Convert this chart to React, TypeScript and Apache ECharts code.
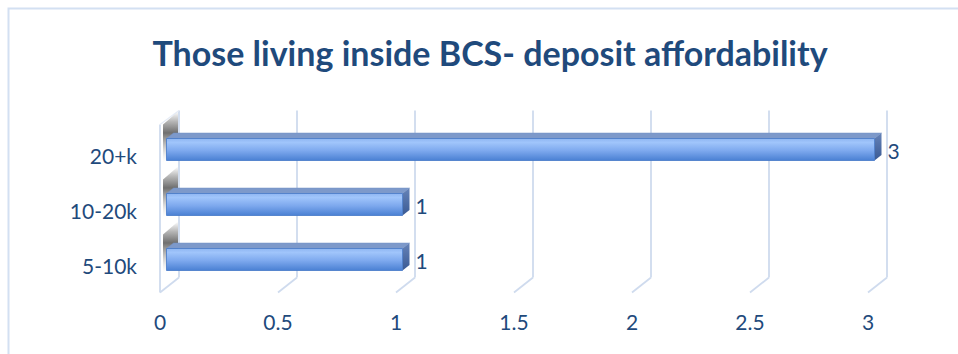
import React, { useEffect, useRef } from "react";
import * as echarts from "echarts";

// Deposit affordability bands (bottom to top) and respondent counts
const categories = ["5-10k", "10-20k", "20+k"];
const counts = [1, 1, 3];
// Value-axis ticks used for the back-wall gridlines
const xTicks = [0, 0.5, 1, 1.5, 2, 2.5, 3];

const TEXT = "#1F4A7C";
const GRID_LINE = "#cfdbee";
const FONT = "Lato";

// 3D depth of the floor (front plane -> back wall) and of each bar
const FLOOR_DX = 19;
const FLOOR_DY = -15;
const BAR_OX = 6.5;
const BAR_OY = -5.5;
const BAR_H = 22;
const BAR_DX = 7;
const BAR_DY = -5.5;

export default function App() {
  const ref = useRef<HTMLDivElement>(null);

  useEffect(() => {
    if (!ref.current) return;
    const chart = echarts.init(ref.current, undefined, { renderer: "svg" });

    const frameItem = (params: any, api: any) => {
      const t = api.value(0);
      const cs = params.coordSys;
      const [x] = api.coord([t, 0]);
      const top = cs.y;
      const bottom = cs.y + cs.height;
      const lineStyle = { stroke: GRID_LINE, lineWidth: 1.8, fill: "none" };
      const children: any[] = [
        {
          type: "line",
          shape: { x1: x + FLOOR_DX, y1: top + FLOOR_DY - 2, x2: x + FLOOR_DX, y2: bottom + FLOOR_DY },
          style: lineStyle,
        },
        {
          type: "line",
          shape: { x1: x + FLOOR_DX, y1: bottom + FLOOR_DY, x2: x, y2: bottom },
          style: lineStyle,
        },
      ];
      if (t === 0) {
        // side wall: front edge and top edge
        children.push({
          type: "line",
          shape: { x1: x, y1: top - 3, x2: x, y2: bottom },
          style: lineStyle,
        });
        children.push({
          type: "line",
          shape: { x1: x, y1: top - 3, x2: x + FLOOR_DX, y2: top + FLOOR_DY - 2 },
          style: { stroke: "#e6ecf6", lineWidth: 1.2 },
        });
      }
      return { type: "group", children };
    };

    // soft shadow each bar casts on the side wall
    const shadowItem = (params: any, api: any) => {
      const c = api.value(1);
      const [x0, yc] = api.coord([0, c]);
      const T = yc + BAR_OY - BAR_H / 2;
      return {
        type: "polygon",
        shape: {
          points: [
            [x0 + 3, T - 14],
            [x0 + FLOOR_DX - 1, T - 27],
            [x0 + FLOOR_DX - 1, T + 12],
            [x0 + 3, T + 24],
          ],
        },
        style: {
          fill: new echarts.graphic.LinearGradient(0, 0, 0, 1, [
            { offset: 0, color: "rgba(90,90,90,0)" },
            { offset: 0.2, color: "rgba(90,90,90,0.45)" },
            { offset: 0.42, color: "rgba(85,85,85,0.85)" },
            { offset: 0.7, color: "rgba(150,150,150,0.5)" },
            { offset: 1, color: "rgba(210,210,210,0)" },
          ]),
        },
      };
    };

    const barItem = (params: any, api: any) => {
      const v = api.value(0);
      const c = api.value(1);
      const [x1, yc] = api.coord([v, c]);
      const [x0] = api.coord([0, c]);
      const L = x0 + BAR_OX;
      const R = x1 + BAR_OX;
      const T = yc + BAR_OY - BAR_H / 2;
      const B = yc + BAR_OY + BAR_H / 2;
      return {
        type: "group",
        children: [
          {
            type: "polygon",
            shape: {
              points: [
                [L, T],
                [L + BAR_DX, T + BAR_DY],
                [R + BAR_DX, T + BAR_DY],
                [R, T],
              ],
            },
            style: { fill: "#7d99ca", stroke: "#7391c4", lineWidth: 0.5 },
          },
          {
            type: "polygon",
            shape: {
              points: [
                [R, T],
                [R + BAR_DX, T + BAR_DY],
                [R + BAR_DX, B + BAR_DY],
                [R, B],
              ],
            },
            style: {
              fill: new echarts.graphic.LinearGradient(0, 0, 0, 1, [
                { offset: 0, color: "#6683b8" },
                { offset: 1, color: "#3a5a94" },
              ]),
            },
          },
          {
            type: "rect",
            shape: { x: L, y: T, width: R - L, height: BAR_H },
            style: {
              fill: new echarts.graphic.LinearGradient(0, 0, 0, 1, [
                { offset: 0, color: "#8fb6f2" },
                { offset: 0.18, color: "#a0c5fb" },
                { offset: 0.55, color: "#7ea9ee" },
                { offset: 1, color: "#4a80d3" },
              ]),
              stroke: "#4477c6",
              lineWidth: 0.8,
            },
          },
          {
            type: "text",
            x: R + BAR_DX + 6,
            y: yc + BAR_OY + 1,
            style: {
              text: String(v),
              fill: TEXT,
              font: `21px ${FONT}`,
              textAlign: "left",
              textVerticalAlign: "middle",
            },
          },
        ],
      };
    };

    chart.setOption({
      animation: false,
      backgroundColor: "#ffffff",
      graphic: [
        {
          type: "rect",
          shape: { x: 8.5, y: 8.5, width: 1000, height: 1000 },
          style: { fill: "none", stroke: "#d3e0f2", lineWidth: 2 },
          silent: true,
        },
        {
          type: "text",
          x: 490,
          y: 52,
          style: {
            text: "Those living inside BCS- deposit affordability",
            fill: TEXT,
            font: `bold 34px ${FONT}`,
            textAlign: "center",
            textVerticalAlign: "middle",
          },
        },
      ],
      grid: { left: 160, right: 90, top: 127.5, bottom: 61.5 },
      xAxis: {
        type: "value",
        min: 0,
        max: 3,
        interval: 0.5,
        axisLine: { show: false },
        axisTick: { show: false },
        splitLine: { show: false },
        axisLabel: { color: TEXT, fontSize: 21, fontFamily: FONT, margin: 18 },
      },
      yAxis: {
        type: "category",
        data: categories,
        axisLine: { show: false },
        axisTick: { show: false },
        splitLine: { show: false },
        axisLabel: { color: TEXT, fontSize: 21, fontFamily: FONT, margin: 23 },
      },
      series: [
        {
          type: "custom",
          name: "frame",
          renderItem: frameItem,
          data: xTicks.map((t) => [t, 0]),
          silent: true,
          z: 1,
        },
        {
          type: "custom",
          name: "wall shadow",
          renderItem: shadowItem,
          data: counts.map((v, i) => [v, i]),
          silent: true,
          z: 2,
        },
        {
          type: "custom",
          name: "count",
          renderItem: barItem,
          data: counts.map((v, i) => [v, i]),
          z: 3,
        },
      ],
    });

    return () => chart.dispose();
  }, []);

  return (
    <div
      ref={ref}
      style={{ position: "fixed", left: 0, top: 0, width: 958, height: 354 }}
    />
  );
}
